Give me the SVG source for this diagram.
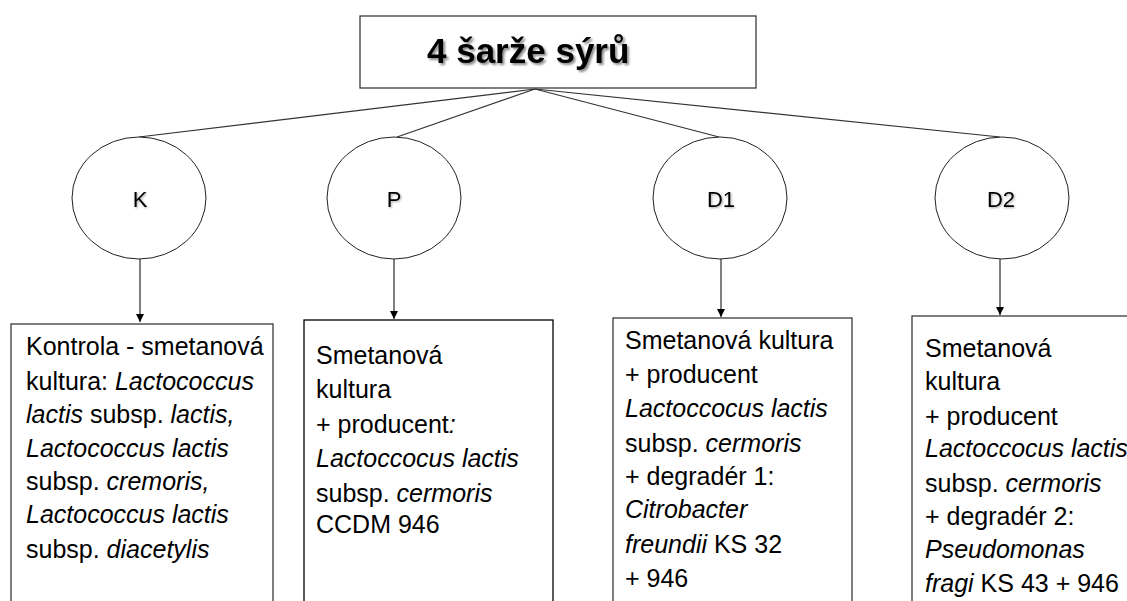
<svg xmlns="http://www.w3.org/2000/svg" width="1127" height="601" viewBox="0 0 1127 601">
<defs>
<style>
.box{fill:#fff;stroke:#3a3a3a;stroke-width:1.3}
.ell{fill:#fff;stroke:#222;stroke-width:1}
.ln{stroke:#333;stroke-width:1.2;fill:none}
.arr{stroke:#000;stroke-width:1;fill:none;marker-end:url(#ah)}
.t{font-family:"Liberation Sans",Arial,sans-serif;font-size:25px;fill:#000}
.lbl{font-family:"Liberation Sans",Arial,sans-serif;font-size:22px;fill:#000;text-anchor:middle;filter:url(#sh2)}
.i{font-style:italic}
.title{font-family:"Liberation Sans",Arial,sans-serif;font-size:35px;font-weight:bold;fill:#000;filter:url(#sh)}
</style>
<marker id="ah" viewBox="0 0 10 10" refX="10" refY="5" markerWidth="8" markerHeight="8" markerUnits="userSpaceOnUse" orient="auto">
<path d="M0,0 L10,5 L0,10 z" fill="#000"/>
</marker>
<filter id="sh" x="-10%" y="-20%" width="130%" height="150%">
<feDropShadow dx="2" dy="2" stdDeviation="1.2" flood-color="#000" flood-opacity="0.45"/>
</filter>
<filter id="sh2" x="-20%" y="-20%" width="150%" height="150%">
<feDropShadow dx="1" dy="1" stdDeviation="0.8" flood-color="#000" flood-opacity="0.35"/>
</filter>
</defs>
<g id="connectors">
<line class="ln" x1="535" y1="89" x2="139" y2="137"/>
<line class="ln" x1="535" y1="89" x2="397" y2="137"/>
<line class="ln" x1="535" y1="89" x2="719" y2="137"/>
<line class="ln" x1="535" y1="89" x2="1000" y2="137"/>
<line class="arr" x1="140" y1="259" x2="140" y2="322"/>
<line class="arr" x1="394" y1="259" x2="394" y2="319"/>
<line class="arr" x1="721" y1="259" x2="721" y2="317"/>
<line class="arr" x1="1000" y1="259" x2="1000" y2="315"/>
</g>
<g id="title">
<rect class="box" x="360" y="16" width="396" height="72"/>
<text class="title" x="427" y="63">4 šarže sýrů</text>
</g>
<g id="node-K">
<ellipse class="ell" cx="139" cy="198" rx="67" ry="61"/>
<text class="lbl" x="140" y="207">K</text>
</g>
<g id="node-P">
<ellipse class="ell" cx="394" cy="198" rx="67" ry="61"/>
<text class="lbl" x="394" y="207">P</text>
</g>
<g id="node-D1">
<ellipse class="ell" cx="720" cy="198" rx="67" ry="61"/>
<text class="lbl" x="721" y="207">D1</text>
</g>
<g id="node-D2">
<ellipse class="ell" cx="1002" cy="198" rx="67" ry="61"/>
<text class="lbl" x="1001" y="207">D2</text>
</g>
<g id="box-K">
<rect class="box" x="11" y="324" width="262" height="300"/>
<text class="t" x="26" y="355">Kontrola - smetanová</text>
<text class="t" x="26" y="390">kultura: <tspan class="i">Lactococcus</tspan></text>
<text class="t" x="26" y="423"><tspan class="i">lactis</tspan> subsp. <tspan class="i">lactis,</tspan></text>
<text class="t i" x="26" y="457">Lactococcus lactis</text>
<text class="t" x="26" y="490">subsp. <tspan class="i">cremoris,</tspan></text>
<text class="t i" x="26" y="523">Lactococcus lactis</text>
<text class="t" x="26" y="558">subsp. <tspan class="i">diacetylis</tspan></text>
</g>
<g id="box-P">
<rect class="box" x="304" y="320" width="249" height="300" style="stroke:#000"/>
<text class="t" x="316" y="364">Smetanová</text>
<text class="t" x="316" y="398">kultura</text>
<text class="t" x="316" y="433">+ producent<tspan class="i">:</tspan></text>
<text class="t i" x="316" y="467">Lactoccocus lactis</text>
<text class="t" x="316" y="502">subsp. <tspan class="i">cermoris</tspan></text>
<text class="t" x="316" y="533">CCDM 946</text>
</g>
<g id="box-D1">
<rect class="box" x="613" y="318" width="239" height="300"/>
<text class="t" x="625" y="349">Smetanová kultura</text>
<text class="t" x="625" y="383">+ producent</text>
<text class="t i" x="625" y="417">Lactoccocus lactis</text>
<text class="t" x="625" y="452">subsp. <tspan class="i">cermoris</tspan></text>
<text class="t" x="625" y="485">+ degradér 1:</text>
<text class="t i" x="625" y="518">Citrobacter</text>
<text class="t" x="625" y="553"><tspan class="i">freundii</tspan> KS 32</text>
<text class="t" x="625" y="587">+ 946</text>
</g>
<g id="box-D2">
<rect class="box" x="912" y="316" width="230" height="300"/>
<text class="t" x="925" y="357">Smetanová</text>
<text class="t" x="925" y="390">kultura</text>
<text class="t" x="925" y="425">+ producent</text>
<text class="t i" x="925" y="457">Lactoccocus lactis</text>
<text class="t" x="925" y="492">subsp. <tspan class="i">cermoris</tspan></text>
<text class="t" x="925" y="525">+ degradér 2:</text>
<text class="t i" x="925" y="558">Pseudomonas</text>
<text class="t" x="925" y="592"><tspan class="i">fragi</tspan> KS 43 + 946</text>
</g>
</svg>
